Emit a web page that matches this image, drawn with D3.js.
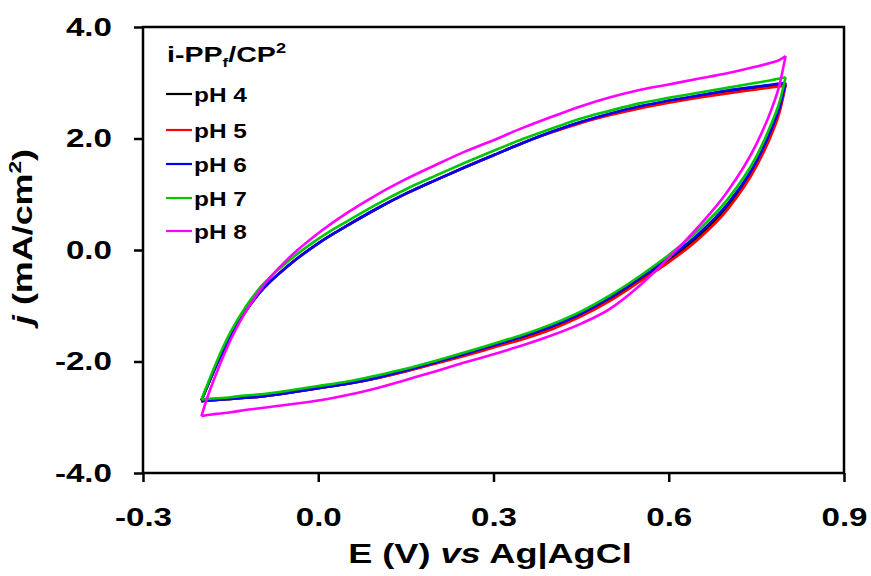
<!DOCTYPE html>
<html>
<head>
<meta charset="utf-8">
<script src="https://cdn.jsdelivr.net/npm/d3@7"></script>
<style>
  body { margin: 0; background: #fff; }
  text { font-family: Arial, 'Liberation Sans', sans-serif; font-weight: bold; fill: #000; }
</style>
</head>
<body>
<div id="chart"></div>
<script>
const WIDTH = 871;
const HEIGHT = 576;
const STRETCH = 1.3; // glyphs in the figure are wider than plain Arial

// potential grid (V vs Ag|AgCl), shared by both sweep directions
const potential = [-0.2, -0.19, -0.175, -0.15, -0.125, -0.1, -0.05, 0, 0.05, 0.1, 0.15, 0.2, 0.25,
  0.3, 0.35, 0.4, 0.45, 0.5, 0.55, 0.6, 0.65, 0.7, 0.75, 0.775, 0.79, 0.8];

// anodic (forward) sweep, mA/cm2
const fwdPH4 = [-2.70, -2.45, -2.08, -1.54, -1.11, -0.76, -0.27, 0.12, 0.44, 0.74, 1.01, 1.25, 1.48,
  1.70, 1.92, 2.12, 2.29, 2.44, 2.56, 2.66, 2.75, 2.84, 2.91, 2.94, 2.96, 2.97];
const fwdPH5 = [-2.70, -2.45, -2.08, -1.54, -1.11, -0.76, -0.27, 0.12, 0.44, 0.74, 1.01, 1.25, 1.48,
  1.70, 1.92, 2.11, 2.28, 2.42, 2.54, 2.64, 2.73, 2.81, 2.88, 2.915, 2.935, 2.95];
const fwdPH6 = [-2.70, -2.45, -2.08, -1.54, -1.11, -0.76, -0.27, 0.12, 0.44, 0.74, 1.01, 1.25, 1.48,
  1.70, 1.92, 2.12, 2.30, 2.45, 2.58, 2.68, 2.77, 2.86, 2.93, 2.965, 2.985, 3.00];
const fwdPH7 = [-2.68, -2.42, -2.03, -1.47, -1.03, -0.68, -0.19, 0.20, 0.52, 0.82, 1.09, 1.33, 1.56,
  1.78, 1.99, 2.18, 2.36, 2.50, 2.63, 2.73, 2.82, 2.91, 3.00, 3.045, 3.075, 3.10];
const fwdPH8 = [-2.98, -2.65, -2.23, -1.61, -1.12, -0.72, -0.14, 0.30, 0.67, 0.99, 1.27, 1.52, 1.76,
  1.97, 2.19, 2.39, 2.58, 2.74, 2.87, 2.97, 3.07, 3.17, 3.29, 3.36, 3.41, 3.48];

// cathodic (reverse) sweep, mA/cm2, listed on the same potential grid
const revPH4 = [-2.71, -2.70, -2.69, -2.67, -2.65, -2.63, -2.56, -2.48, -2.40, -2.30, -2.17, -2.03, -1.88,
  -1.73, -1.57, -1.40, -1.17, -0.88, -0.54, -0.18, 0.24, 0.77, 1.55, 2.10, 2.53, 2.97];
const revPH5 = [-2.71, -2.70, -2.69, -2.67, -2.65, -2.63, -2.56, -2.48, -2.40, -2.30, -2.18, -2.04, -1.90,
  -1.75, -1.60, -1.42, -1.19, -0.91, -0.57, -0.22, 0.19, 0.72, 1.50, 2.05, 2.48, 2.95];
const revPH6 = [-2.71, -2.70, -2.69, -2.67, -2.65, -2.63, -2.56, -2.48, -2.40, -2.29, -2.16, -2.02, -1.87,
  -1.71, -1.55, -1.37, -1.14, -0.85, -0.51, -0.14, 0.28, 0.82, 1.59, 2.15, 2.57, 3.00];
const revPH7 = [-2.68, -2.67, -2.66, -2.64, -2.61, -2.59, -2.52, -2.44, -2.36, -2.25, -2.13, -1.99, -1.84,
  -1.68, -1.52, -1.33, -1.10, -0.81, -0.47, -0.09, 0.35, 0.90, 1.68, 2.25, 2.67, 3.10];
const revPH8 = [-2.98, -2.96, -2.94, -2.91, -2.87, -2.84, -2.77, -2.70, -2.60, -2.48, -2.33, -2.18, -2.02,
  -1.87, -1.71, -1.53, -1.32, -1.05, -0.64, -0.14, 0.41, 1.04, 1.90, 2.50, 2.98, 3.48];

const labels = ['pH 4', 'pH 5', 'pH 6', 'pH 7', 'pH 8'];
const colors = ['#000000', '#ff0000', '#0000ff', '#00c800', '#ff00ff'];
const forward = [fwdPH4, fwdPH5, fwdPH6, fwdPH7, fwdPH8];
const reverse = [revPH4, revPH5, revPH6, revPH7, revPH8];

const xTicks = [-0.3, 0, 0.3, 0.6, 0.9];
const yTicks = [-4, -2, 0, 2, 4];

const svg = d3.select('#chart').append('svg')
  .attr('width', WIDTH)
  .attr('height', HEIGHT);

const x = d3.scaleLinear().domain([-0.3, 0.9]).range([143, 844]);
const y = d3.scaleLinear().domain([-4, 4]).range([473, 27]);

// stretch a text horizontally around its own anchor point
function widen(sel, ax, ay, k) {
  sel.attr('transform', `translate(${ax},${ay}) scale(${k},1) translate(${-ax},${-ay})`);
}

// curves
const line = d3.line()
  .x(d => x(d[0]))
  .y(d => y(d[1]))
  .curve(d3.curveMonotoneX);

const curves = svg.append('g').attr('class', 'curves');
labels.forEach((lab, i) => {
  [forward[i], reverse[i]].forEach(branch => {
    curves.append('path')
      .datum(potential.map((e, k) => [e, branch[k]]))
      .attr('fill', 'none')
      .attr('stroke', colors[i])
      .attr('stroke-width', 2.6)
      .attr('stroke-linejoin', 'round')
      .attr('d', line);
  });
});

// frame
svg.append('rect')
  .attr('x', x(-0.3))
  .attr('y', y(4))
  .attr('width', x(0.9) - x(-0.3))
  .attr('height', y(-4) - y(4))
  .attr('fill', 'none')
  .attr('stroke', '#000')
  .attr('stroke-width', 2.5);

// axes
const xAxis = svg.append('g')
  .attr('transform', `translate(0,${y(-4)})`)
  .call(d3.axisBottom(x).tickValues(xTicks).tickSize(9).tickPadding(26).tickFormat(d3.format('.1f')));
const yAxis = svg.append('g')
  .attr('transform', `translate(${x(-0.3)},0)`)
  .call(d3.axisLeft(y).tickValues(yTicks).tickSize(9).tickPadding(22).tickFormat(d3.format('.1f')));

[xAxis, yAxis].forEach(ax => {
  ax.select('.domain').remove();
  ax.selectAll('.tick line').attr('stroke', '#000').attr('stroke-width', 2.5);
  ax.selectAll('.tick text')
    .attr('font-size', 25.5)
    .attr('font-family', null)
    .text(d => d3.format('.1f')(d).replace('−', '-'));
});
xAxis.selectAll('.tick text').each(function () {
  const t = d3.select(this);
  widen(t, 0, +t.attr('y'), STRETCH);
});
yAxis.selectAll('.tick text').each(function () {
  const t = d3.select(this);
  widen(t, +t.attr('x'), 0, STRETCH);
});

// axis titles
const xTitle = svg.append('text')
  .attr('x', 490)
  .attr('y', 563)
  .attr('text-anchor', 'middle')
  .attr('font-size', 28);
xTitle.append('tspan').text('E (V) ');
xTitle.append('tspan').attr('font-style', 'italic').text('vs');
xTitle.append('tspan').text(' Ag|AgCl');
widen(xTitle, 490, 563, 1.29);

const yTitle = svg.append('text')
  .attr('text-anchor', 'middle')
  .attr('font-size', 27)
  .attr('transform', `translate(32,237) rotate(-90) scale(1.33,1)`);
yTitle.append('tspan').attr('font-style', 'italic').text('j');
yTitle.append('tspan').text(' (mA/cm');
yTitle.append('tspan').attr('font-size', 17).attr('dy', -11).text('2');
yTitle.append('tspan').attr('dy', 11).text(')');

// legend
const legend = svg.append('g').attr('class', 'legend');
const legTitle = legend.append('text')
  .attr('x', 167)
  .attr('y', 62)
  .attr('font-size', 22);
legTitle.append('tspan').text('i-PP');
legTitle.append('tspan').attr('font-size', 13).attr('dy', 5).text('f');
legTitle.append('tspan').attr('dy', -5).text('/CP');
legTitle.append('tspan').attr('font-size', 14).attr('dy', -9).text('2');
widen(legTitle, 167, 62, 1.3);

const legendY = [94, 130, 164, 198, 231];
labels.forEach((lab, i) => {
  legend.append('line')
    .attr('x1', 166)
    .attr('x2', 192)
    .attr('y1', legendY[i])
    .attr('y2', legendY[i])
    .attr('stroke', colors[i])
    .attr('stroke-width', 2.2);
  const t = legend.append('text')
    .attr('x', 194)
    .attr('y', legendY[i] + 8)
    .attr('font-size', 20)
    .text(lab);
  widen(t, 194, legendY[i] + 8, 1.22);
});
</script>
</body>
</html>
